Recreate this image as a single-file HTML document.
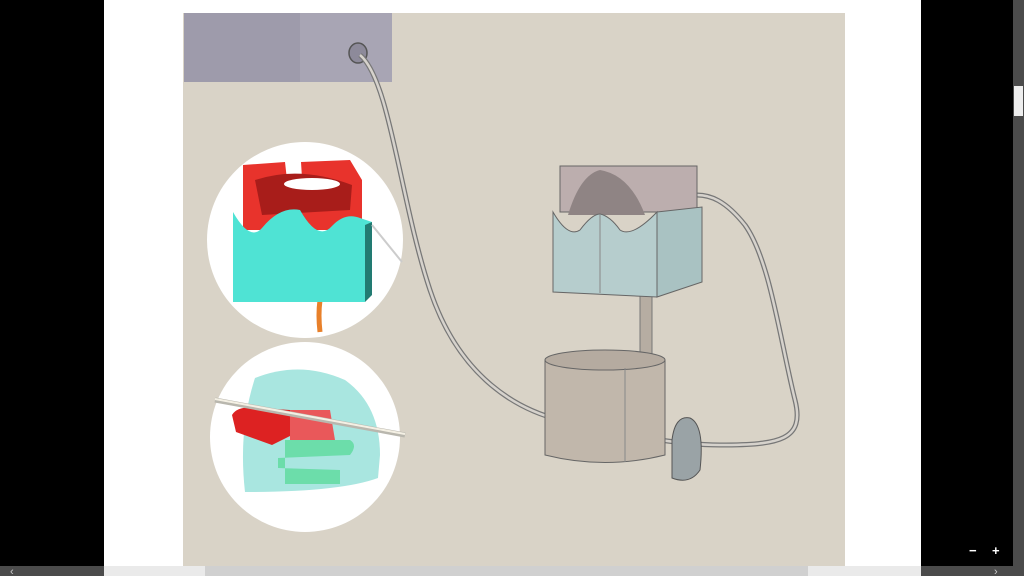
<!DOCTYPE html>
<html><head><style>
html,body{margin:0;padding:0;width:1024px;height:576px;overflow:hidden;background:#000}
</style></head><body>
<svg width="1024" height="576" viewBox="0 0 1024 576" xmlns="http://www.w3.org/2000/svg" style="display:block">
<rect x="0" y="0" width="1024" height="576" fill="#000"/>
<rect x="104" y="0" width="817" height="566" fill="#fff"/>
<rect x="183" y="13" width="662" height="553" fill="#d9d3c7"/>
<rect x="184" y="13" width="208" height="69" fill="#9e9bab"/>
<rect x="300" y="13" width="92" height="69" fill="#a8a5b4"/>
<ellipse cx="358" cy="53" rx="9" ry="10" fill="#8d8a9a" stroke="#555" stroke-width="1.5"/>
<path d="M360 55 C390 80 400 200 430 290 C460 380 520 410 560 420 C620 435 680 445 720 445 C780 445 805 440 795 400 C780 340 770 260 745 225 C725 200 710 195 697 195" fill="none" stroke="#777" stroke-width="5"/>
<path d="M360 55 C390 80 400 200 430 290 C460 380 520 410 560 420 C620 435 680 445 720 445 C780 445 805 440 795 400 C780 340 770 260 745 225 C725 200 710 195 697 195" fill="none" stroke="#d6d2cc" stroke-width="2.5"/>
<rect x="640" y="296" width="12" height="60" fill="#b6ada2" stroke="#777"/>
<path d="M545 360 L545 455 Q605 470 665 455 L665 360 Z" fill="#c1b7ab" stroke="#666"/>
<ellipse cx="605" cy="360" rx="60" ry="10" fill="#b5aba0" stroke="#666"/>
<line x1="625" y1="368" x2="625" y2="462" stroke="#888"/>
<rect x="560" y="166" width="137" height="46" fill="#bcaeae" stroke="#666"/>
<path d="M568 215 Q580 175 600 170 Q630 175 645 215 Z" fill="#8f8484"/>
<path d="M553 212 Q568 238 580 230 Q592 214 600 214 Q610 216 620 230 Q632 238 657 212 L657 297 L553 292 Z" fill="#b6cdcd" stroke="#666"/>
<path d="M657 212 L702 207 L702 282 L657 297 Z" fill="#a9c2c2" stroke="#666"/>
<line x1="600" y1="215" x2="600" y2="293" stroke="#888"/>
<path d="M672 440 Q675 415 690 418 Q705 425 700 470 Q690 485 672 478 Z" fill="#9aa3a6" stroke="#555"/>
<!-- circle 1 -->
<circle cx="305" cy="240" r="98" fill="#fff"/>
<path d="M320 300 Q318 315 320 332" stroke="#e8802a" stroke-width="5" fill="none"/>
<path d="M243 165 L285 162 L287 180 L302 178 L301 162 L350 160 L362 180 L362 230 L243 230 Z" fill="#e8332c"/>
<path d="M255 180 Q300 165 352 185 L350 210 L262 215 Z" fill="#a81d1a"/>
<ellipse cx="312" cy="184" rx="28" ry="6" fill="#fff"/>
<path d="M233 212 Q250 242 262 228 Q280 206 300 210 Q318 242 332 226 Q345 212 360 218 L372 222 L372 290 L365 302 L233 302 Z" fill="#4fe3d4"/>
<path d="M365 225 L372 222 L372 295 L365 302 Z" fill="#227b72"/>
<line x1="372" y1="225" x2="402" y2="262" stroke="#ccc" stroke-width="2"/>
<!-- circle 2 -->
<circle cx="305" cy="437" r="95" fill="#fff"/>
<path d="M255 378 Q300 360 345 380 Q380 405 380 455 L378 478 Q340 492 245 492 Q238 430 255 378 Z" fill="#a9e6e0"/>
<path d="M232 415 Q238 405 260 408 L290 410 L298 432 L272 445 L236 432 Z" fill="#dd2222"/>
<path d="M290 410 L330 410 L335 440 L290 440 Z" fill="#e9585a"/>
<path d="M285 440 L350 440 Q358 445 350 455 L278 458 L278 468 L340 470 L340 484 L285 484 Z" fill="#6cddaa"/>
<line x1="215" y1="400" x2="405" y2="435" stroke="#b9b7ae" stroke-width="5"/>
<line x1="215" y1="399" x2="405" y2="434" stroke="#f4f0e4" stroke-width="2"/>
<rect x="1013" y="0" width="11" height="566" fill="#4b4b4b"/>
<rect x="1014" y="86" width="9" height="30" fill="#eee"/>
<rect x="0" y="566" width="1024" height="10" fill="#4b4b4b"/>
<rect x="104" y="566" width="817" height="10" fill="#eaeaea"/>
<rect x="205" y="566" width="603" height="10" fill="#d0d0d0"/>
<text x="10" y="575" fill="#ccc" font-family="Liberation Sans" font-size="11">‹</text>
<text x="994" y="575" fill="#ccc" font-family="Liberation Sans" font-size="11">›</text>
<text x="969" y="555" fill="#fff" font-family="Liberation Sans" font-size="13" font-weight="bold">−</text>
<text x="992" y="555" fill="#fff" font-family="Liberation Sans" font-size="13" font-weight="bold">+</text>
</svg>
</body></html>
